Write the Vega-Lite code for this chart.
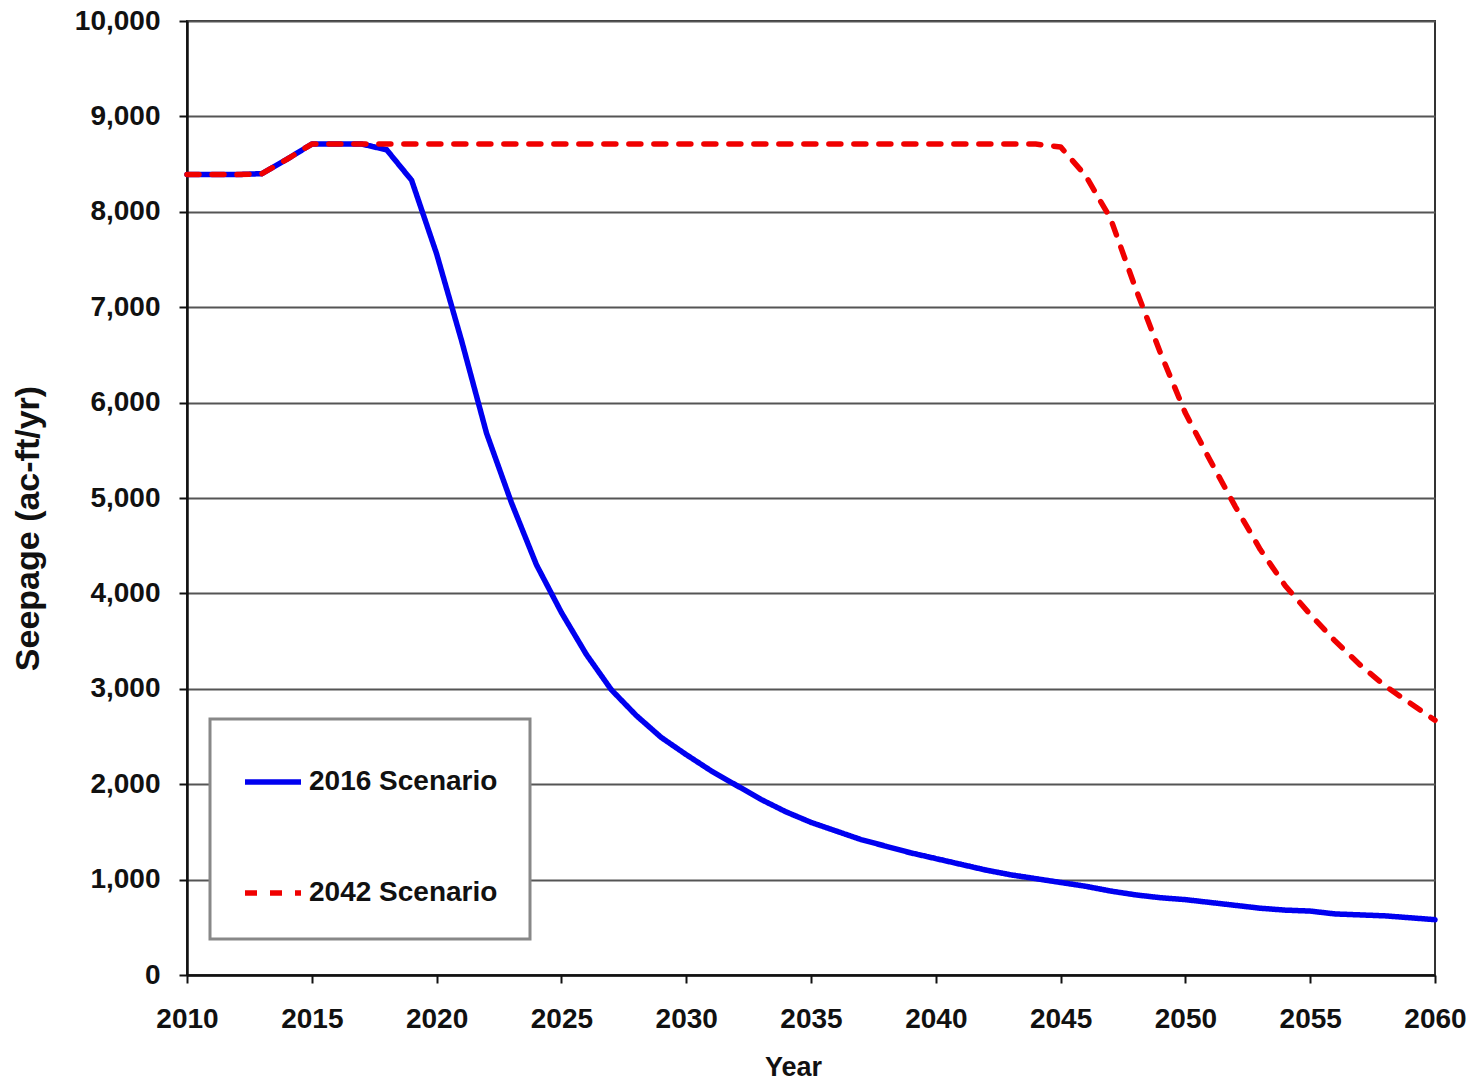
{
  "$schema": "https://vega.github.io/schema/vega-lite/v6.json",
  "width": 1248,
  "height": 954,
  "autosize": {"type": "none"},
  "padding": {"left": 187, "top": 21, "right": 39, "bottom": 108},
  "background": "white",
  "config": {
    "font": "Liberation Sans",
    "view": {"stroke": "#333333", "strokeWidth": 2},
    "axis": {
      "labelFont": "Liberation Sans",
      "labelFontWeight": "bold",
      "labelFontSize": 28,
      "labelColor": "#111111",
      "titleFont": "Liberation Sans",
      "titleFontWeight": "bold",
      "titleColor": "#111111",
      "domainColor": "#111111",
      "domainWidth": 2.5,
      "tickColor": "#111111",
      "tickWidth": 2,
      "tickSize": 8,
      "gridColor": "#555555",
      "gridWidth": 1.8
    }
  },
  "data": {
    "values": [
      {"year": 2010, "scenario": "2016 Scenario", "seepage": 8390},
      {"year": 2011, "scenario": "2016 Scenario", "seepage": 8390},
      {"year": 2012, "scenario": "2016 Scenario", "seepage": 8390},
      {"year": 2013, "scenario": "2016 Scenario", "seepage": 8400},
      {"year": 2014, "scenario": "2016 Scenario", "seepage": 8550},
      {"year": 2015, "scenario": "2016 Scenario", "seepage": 8710},
      {"year": 2016, "scenario": "2016 Scenario", "seepage": 8710},
      {"year": 2017, "scenario": "2016 Scenario", "seepage": 8710},
      {"year": 2018, "scenario": "2016 Scenario", "seepage": 8650},
      {"year": 2019, "scenario": "2016 Scenario", "seepage": 8330},
      {"year": 2020, "scenario": "2016 Scenario", "seepage": 7560},
      {"year": 2021, "scenario": "2016 Scenario", "seepage": 6650},
      {"year": 2022, "scenario": "2016 Scenario", "seepage": 5680},
      {"year": 2023, "scenario": "2016 Scenario", "seepage": 4950},
      {"year": 2024, "scenario": "2016 Scenario", "seepage": 4300},
      {"year": 2025, "scenario": "2016 Scenario", "seepage": 3800},
      {"year": 2026, "scenario": "2016 Scenario", "seepage": 3360},
      {"year": 2027, "scenario": "2016 Scenario", "seepage": 2990},
      {"year": 2028, "scenario": "2016 Scenario", "seepage": 2720},
      {"year": 2029, "scenario": "2016 Scenario", "seepage": 2490},
      {"year": 2030, "scenario": "2016 Scenario", "seepage": 2310},
      {"year": 2031, "scenario": "2016 Scenario", "seepage": 2140},
      {"year": 2032, "scenario": "2016 Scenario", "seepage": 1990},
      {"year": 2033, "scenario": "2016 Scenario", "seepage": 1840},
      {"year": 2034, "scenario": "2016 Scenario", "seepage": 1710},
      {"year": 2035, "scenario": "2016 Scenario", "seepage": 1600},
      {"year": 2036, "scenario": "2016 Scenario", "seepage": 1510},
      {"year": 2037, "scenario": "2016 Scenario", "seepage": 1420},
      {"year": 2038, "scenario": "2016 Scenario", "seepage": 1350},
      {"year": 2039, "scenario": "2016 Scenario", "seepage": 1280},
      {"year": 2040, "scenario": "2016 Scenario", "seepage": 1220},
      {"year": 2041, "scenario": "2016 Scenario", "seepage": 1160},
      {"year": 2042, "scenario": "2016 Scenario", "seepage": 1100},
      {"year": 2043, "scenario": "2016 Scenario", "seepage": 1050},
      {"year": 2044, "scenario": "2016 Scenario", "seepage": 1010},
      {"year": 2045, "scenario": "2016 Scenario", "seepage": 970},
      {"year": 2046, "scenario": "2016 Scenario", "seepage": 930},
      {"year": 2047, "scenario": "2016 Scenario", "seepage": 880},
      {"year": 2048, "scenario": "2016 Scenario", "seepage": 840},
      {"year": 2049, "scenario": "2016 Scenario", "seepage": 810},
      {"year": 2050, "scenario": "2016 Scenario", "seepage": 790},
      {"year": 2051, "scenario": "2016 Scenario", "seepage": 760},
      {"year": 2052, "scenario": "2016 Scenario", "seepage": 730},
      {"year": 2053, "scenario": "2016 Scenario", "seepage": 700},
      {"year": 2054, "scenario": "2016 Scenario", "seepage": 680},
      {"year": 2055, "scenario": "2016 Scenario", "seepage": 670},
      {"year": 2056, "scenario": "2016 Scenario", "seepage": 640},
      {"year": 2057, "scenario": "2016 Scenario", "seepage": 630},
      {"year": 2058, "scenario": "2016 Scenario", "seepage": 620},
      {"year": 2059, "scenario": "2016 Scenario", "seepage": 600},
      {"year": 2060, "scenario": "2016 Scenario", "seepage": 580},
      {"year": 2010, "scenario": "2042 Scenario", "seepage": 8390},
      {"year": 2011, "scenario": "2042 Scenario", "seepage": 8390},
      {"year": 2012, "scenario": "2042 Scenario", "seepage": 8390},
      {"year": 2013, "scenario": "2042 Scenario", "seepage": 8400},
      {"year": 2014, "scenario": "2042 Scenario", "seepage": 8550},
      {"year": 2015, "scenario": "2042 Scenario", "seepage": 8710},
      {"year": 2016, "scenario": "2042 Scenario", "seepage": 8710},
      {"year": 2017, "scenario": "2042 Scenario", "seepage": 8710},
      {"year": 2018, "scenario": "2042 Scenario", "seepage": 8710},
      {"year": 2019, "scenario": "2042 Scenario", "seepage": 8710},
      {"year": 2020, "scenario": "2042 Scenario", "seepage": 8710},
      {"year": 2021, "scenario": "2042 Scenario", "seepage": 8710},
      {"year": 2022, "scenario": "2042 Scenario", "seepage": 8710},
      {"year": 2023, "scenario": "2042 Scenario", "seepage": 8710},
      {"year": 2024, "scenario": "2042 Scenario", "seepage": 8710},
      {"year": 2025, "scenario": "2042 Scenario", "seepage": 8710},
      {"year": 2026, "scenario": "2042 Scenario", "seepage": 8710},
      {"year": 2027, "scenario": "2042 Scenario", "seepage": 8710},
      {"year": 2028, "scenario": "2042 Scenario", "seepage": 8710},
      {"year": 2029, "scenario": "2042 Scenario", "seepage": 8710},
      {"year": 2030, "scenario": "2042 Scenario", "seepage": 8710},
      {"year": 2031, "scenario": "2042 Scenario", "seepage": 8710},
      {"year": 2032, "scenario": "2042 Scenario", "seepage": 8710},
      {"year": 2033, "scenario": "2042 Scenario", "seepage": 8710},
      {"year": 2034, "scenario": "2042 Scenario", "seepage": 8710},
      {"year": 2035, "scenario": "2042 Scenario", "seepage": 8710},
      {"year": 2036, "scenario": "2042 Scenario", "seepage": 8710},
      {"year": 2037, "scenario": "2042 Scenario", "seepage": 8710},
      {"year": 2038, "scenario": "2042 Scenario", "seepage": 8710},
      {"year": 2039, "scenario": "2042 Scenario", "seepage": 8710},
      {"year": 2040, "scenario": "2042 Scenario", "seepage": 8710},
      {"year": 2041, "scenario": "2042 Scenario", "seepage": 8710},
      {"year": 2042, "scenario": "2042 Scenario", "seepage": 8710},
      {"year": 2043, "scenario": "2042 Scenario", "seepage": 8710},
      {"year": 2044, "scenario": "2042 Scenario", "seepage": 8710},
      {"year": 2045, "scenario": "2042 Scenario", "seepage": 8680},
      {"year": 2046, "scenario": "2042 Scenario", "seepage": 8380},
      {"year": 2047, "scenario": "2042 Scenario", "seepage": 7930},
      {"year": 2048, "scenario": "2042 Scenario", "seepage": 7200},
      {"year": 2049, "scenario": "2042 Scenario", "seepage": 6520},
      {"year": 2050, "scenario": "2042 Scenario", "seepage": 5890},
      {"year": 2051, "scenario": "2042 Scenario", "seepage": 5390},
      {"year": 2052, "scenario": "2042 Scenario", "seepage": 4910},
      {"year": 2053, "scenario": "2042 Scenario", "seepage": 4460},
      {"year": 2054, "scenario": "2042 Scenario", "seepage": 4080},
      {"year": 2055, "scenario": "2042 Scenario", "seepage": 3780},
      {"year": 2056, "scenario": "2042 Scenario", "seepage": 3500},
      {"year": 2057, "scenario": "2042 Scenario", "seepage": 3250},
      {"year": 2058, "scenario": "2042 Scenario", "seepage": 3030},
      {"year": 2059, "scenario": "2042 Scenario", "seepage": 2850},
      {"year": 2060, "scenario": "2042 Scenario", "seepage": 2670}
    ]
  },
  "mark": {"type": "line", "strokeWidth": 5.5, "strokeCap": "round", "strokeJoin": "round"},
  "encoding": {
    "x": {
      "field": "year",
      "type": "quantitative",
      "scale": {"domain": [2010, 2060], "nice": false, "zero": false},
      "axis": {
        "values": [2010, 2015, 2020, 2025, 2030, 2035, 2040, 2045, 2050, 2055, 2060],
        "format": "d",
        "grid": false,
        "labelFlush": false,
        "labelPadding": 22,
        "labelBaseline": "top",
        "title": "Year",
        "titleFontSize": 27,
        "titleX": 606,
        "titleY": 92,
        "titleBaseline": "middle",
        "titleAlign": "center"
      }
    },
    "y": {
      "field": "seepage",
      "type": "quantitative",
      "scale": {"domain": [0, 10000], "nice": false},
      "axis": {
        "values": [0, 1000, 2000, 3000, 4000, 5000, 6000, 7000, 8000, 9000, 10000],
        "format": ",d",
        "grid": true,
        "labelPadding": 19,
        "labelBaseline": "middle",
        "title": "Seepage (ac-ft/yr)",
        "titleFontSize": 34,
        "titleX": -159,
        "titleY": 507,
        "titleAngle": -90,
        "titleBaseline": "middle",
        "titleAlign": "center"
      }
    },
    "color": {
      "field": "scenario",
      "type": "nominal",
      "scale": {"domain": ["2016 Scenario", "2042 Scenario"], "range": ["#0000F0", "#F00000"]},
      "legend": {
        "title": null,
        "orient": "none",
        "legendX": 23,
        "legendY": 698,
        "direction": "vertical",
        "fillColor": "white",
        "strokeColor": "#888888",
        "padding": 32,
        "rowPadding": 66,
        "symbolType": "stroke",
        "symbolSize": 3136,
        "symbolStrokeWidth": 5.5,
        "labelOffset": 5,
        "labelFont": "Liberation Sans",
        "labelFontWeight": "bold",
        "labelFontSize": 28,
        "labelColor": "#111111",
        "labelLimit": 400,
        "encode": {"legend": {"update": {"strokeWidth": {"value": 3}}}}
      }
    },
    "strokeDash": {
      "field": "scenario",
      "type": "nominal",
      "scale": {"domain": ["2016 Scenario", "2042 Scenario"], "range": [[1, 0], [12, 13]]},
      "legend": null
    }
  }
}
